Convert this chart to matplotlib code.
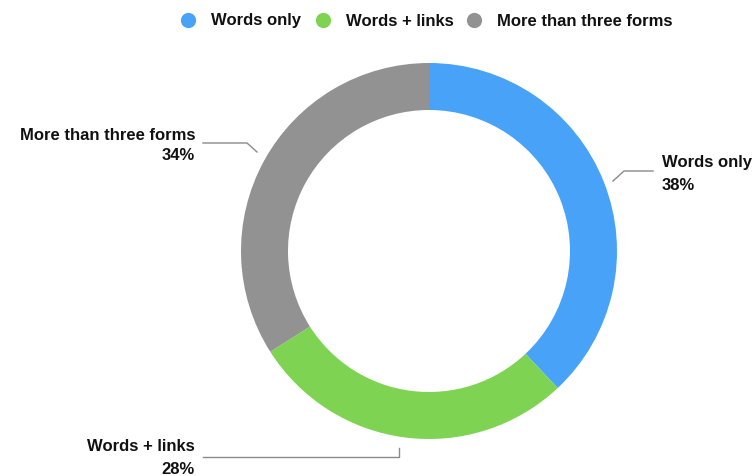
import matplotlib
matplotlib.use("Agg")
import matplotlib.pyplot as plt

categories = ["Words only", "Words + links", "More than three forms"]
shares = [38, 28, 34]
colors = ["#48A2F8", "#7FD353", "#929292"]

W, H = 756, 477
plt.rcParams['font.family'] = ['Liberation Sans', 'DejaVu Sans']

fig = plt.figure(figsize=(W / 100, H / 100), dpi=100)
ax = fig.add_axes([0, 0, 1, 1])

# donut, starting at 12 o'clock and running clockwise
cx, cy, r = 429, H - 252, 188
ax.pie(shares, colors=colors, startangle=90, counterclock=False,
       center=(cx, cy), radius=r, wedgeprops=dict(width=r * 0.25, linewidth=0))
ax.set_xlim(0, W)
ax.set_ylim(0, H)
ax.set_aspect('equal')
ax.set_axis_off()

font = dict(fontsize=12, fontweight='bold', color='#111111')
line = dict(color='#8a8a8a', lw=1.0)

# callouts: (text x, first line y, line gap, alignment, leader polyline)
callouts = [
    (662, 163, 23, 'left', [(613, 182), (624, 172), (653, 172)]),
    (195, 447, 23, 'right', [(203, 458), (399, 458), (399, 449)]),
    (195, 135, 21, 'right', [(203, 144), (247, 144), (257, 153)]),
]
for (tx, ty, gap, ha, pts), name, val in zip(callouts, categories, shares):
    ax.text(tx, H - ty, name, ha=ha, va='center', **font)
    ax.text(tx, H - ty - gap, f"{val}%", ha=ha, va='center', **font)
    xs = [p[0] for p in pts]
    ys = [H - p[1] for p in pts]
    ax.plot(xs, ys, **line)

# legend row across the top
legend_x = [188, 323, 474]
for lx, name, c in zip(legend_x, categories, colors):
    ax.scatter([lx], [H - 21], s=120, color=c, linewidths=0)
    ax.text(lx + 23, H - 21, name, ha='left', va='center', **font)

fig.savefig("out.png", dpi=100)
